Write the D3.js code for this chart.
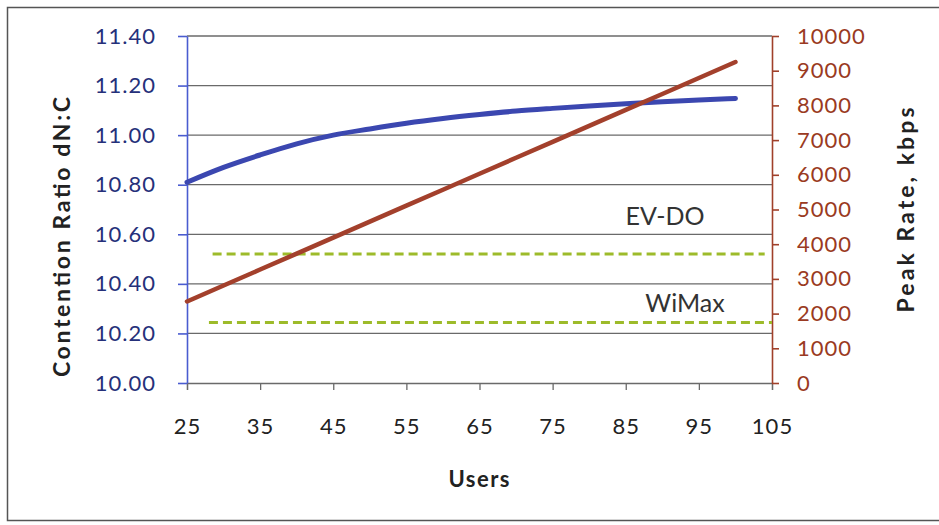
<!DOCTYPE html>
<html>
<head>
<meta charset="utf-8">
<script src="https://cdn.jsdelivr.net/npm/d3@7"></script>
<style>
  html, body { margin: 0; padding: 0; background: #fff; }
  svg { display: block; font-family: Lato, "Open Sans", sans-serif; }
</style>
</head>
<body>
<svg id="chart" width="939" height="525"></svg>
<script>
// users on the x axis
const users = [25, 30, 35, 40, 45, 50, 55, 60, 65, 70, 75, 80, 85, 90, 95, 100]
// contention ratio dN:C (left axis)
const contention = [10.81, 10.87, 10.92, 10.965, 11.0, 11.025, 11.048, 11.067, 11.083, 11.097, 11.108, 11.118, 11.127, 11.135, 11.142, 11.148]
// peak rate kbps (right axis)
const peakRate = [2350, 2810, 3270, 3730, 4190, 4650, 5110, 5570, 6030, 6490, 6950, 7410, 7870, 8330, 8790, 9250]
// reference levels, kbps
const refNames = ["EV-DO", "WiMax"]
const refRates = [3720, 1740]
const refFrom = [28.5, 28]
const refTo = [104, 105]

const leftTicks = [10.0, 10.2, 10.4, 10.6, 10.8, 11.0, 11.2, 11.4]
const rightTicks = [0, 1000, 2000, 3000, 4000, 5000, 6000, 7000, 8000, 9000, 10000]
const xTicks = [25, 35, 45, 55, 65, 75, 85, 95, 105]

const svg = d3.select("#chart")
const m = {left: 187, right: 772, top: 36, bottom: 383}

const x = d3.scaleLinear().domain([25, 105]).range([m.left, m.right])
const yL = d3.scaleLinear().domain([10, 11.4]).range([m.bottom, m.top])
const yR = d3.scaleLinear().domain([0, 10000]).range([m.bottom, m.top])

// outer frame
svg.append("rect")
  .attr("x", 7.5).attr("y", 7.5).attr("width", 940).attr("height", 513)
  .attr("fill", "none").attr("stroke", "#555").attr("stroke-width", 1.5)

// gridlines
svg.append("g").selectAll("line").data(leftTicks.slice(1)).join("line")
  .attr("x1", m.left).attr("x2", m.right)
  .attr("y1", (d) => yL(d)).attr("y2", (d) => yL(d))
  .attr("stroke", "#6a6a6a").attr("stroke-width", 1.3)

const tickFont = (g, fill) => g.selectAll("text")
  .attr("font-size", 22).attr("letter-spacing", 1).attr("fill", fill).attr("font-family", "Lato, sans-serif")

// x axis
const gx = svg.append("g").attr("transform", `translate(0,${m.bottom})`)
  .call(d3.axisBottom(x).tickValues(xTicks).tickSize(7).tickPadding(28).tickFormat(d3.format("d")))
gx.select(".domain").attr("stroke", "#6a6a6a").attr("stroke-width", 1.3)
gx.selectAll(".tick line").attr("stroke", "#6a6a6a").attr("stroke-width", 1.3)
tickFont(gx, "#222")

// left axis
const gl = svg.append("g").attr("transform", `translate(${m.left},0)`)
  .call(d3.axisLeft(yL).tickValues(leftTicks).tickSize(9).tickSizeOuter(0).tickPadding(22).tickFormat(d3.format(".2f")))
gl.select(".domain").attr("stroke", "#4a5cd0").attr("stroke-width", 1.6)
gl.selectAll(".tick line").attr("stroke", "#4a5cd0").attr("stroke-width", 1.6)
tickFont(gl, "#25307a")

// right axis
const gr = svg.append("g").attr("transform", `translate(${m.right},0)`)
  .call(d3.axisRight(yR).tickValues(rightTicks).tickSize(7).tickSizeOuter(0).tickPadding(18).tickFormat(d3.format("d")))
gr.select(".domain").attr("stroke", "#a0402a").attr("stroke-width", 1.6)
gr.selectAll(".tick line").attr("stroke", "#a0402a").attr("stroke-width", 1.6)
tickFont(gr, "#9a3a22")

// reference dashed lines
refNames.forEach((name, i) => {
  svg.append("line")
    .attr("x1", x(refFrom[i])).attr("x2", x(refTo[i]))
    .attr("y1", yR(refRates[i])).attr("y2", yR(refRates[i]))
    .attr("stroke", "#9dbb2a").attr("stroke-width", 3)
    .attr("stroke-dasharray", "9,5")
})

// series lines
const contLine = d3.line().x((d, i) => x(users[i])).y((d) => yL(d)).curve(d3.curveMonotoneX)
svg.append("path").datum(contention)
  .attr("fill", "none").attr("stroke", "#3b47b0").attr("stroke-width", 5)
  .attr("stroke-linecap", "round").attr("d", contLine)

const rateLine = d3.line().x((d, i) => x(users[i])).y((d) => yR(d))
svg.append("path").datum(peakRate)
  .attr("fill", "none").attr("stroke", "#a3402c").attr("stroke-width", 4.5)
  .attr("stroke-linecap", "round").attr("d", rateLine)

// labels for reference lines
const refLabelX = [665, 685]
const refLabelY = [225, 312]
refNames.forEach((name, i) => {
  svg.append("text")
    .attr("x", refLabelX[i]).attr("y", refLabelY[i])
    .attr("text-anchor", "middle").attr("font-size", 25).attr("fill", "#333")
    .text(name)
})

// axis titles
svg.append("text")
  .attr("transform", `translate(70,237) rotate(-90)`)
  .attr("text-anchor", "middle").attr("font-size", 23).attr("font-weight", "bold").attr("fill", "#222")
  .attr("textLength", 280).attr("lengthAdjust", "spacing")
  .text("Contention Ratio dN:C")

svg.append("text")
  .attr("transform", `translate(914,210) rotate(-90)`)
  .attr("text-anchor", "middle").attr("font-size", 23).attr("font-weight", "bold").attr("fill", "#222")
  .attr("textLength", 205).attr("lengthAdjust", "spacing")
  .text("Peak Rate, kbps")

svg.append("text")
  .attr("x", 479).attr("y", 487)
  .attr("text-anchor", "middle").attr("font-size", 22).attr("font-weight", "bold").attr("fill", "#222")
  .attr("textLength", 61).attr("lengthAdjust", "spacing")
  .text("Users")
</script>
</body>
</html>
